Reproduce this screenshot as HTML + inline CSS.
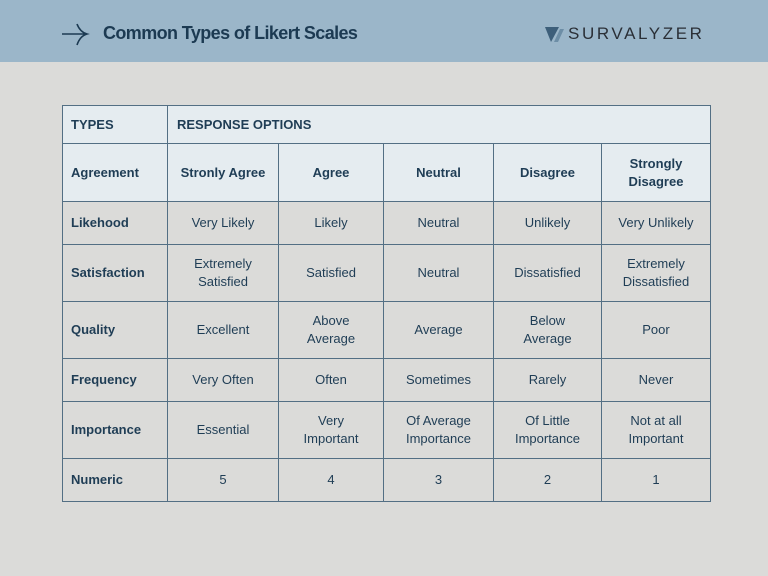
<!DOCTYPE html>
<html><head><style>
*{margin:0;padding:0;box-sizing:border-box}
body{width:768px;height:576px;background:#dbdbd9;font-family:"Liberation Sans",sans-serif;position:relative;overflow:hidden;color:#1f3d55}
.hdr{position:absolute;left:0;top:0;width:768px;height:62px;background:#9bb6c9}
.title{position:absolute;left:103px;top:23px;font-size:18px;font-weight:bold;color:#1c3a52;letter-spacing:-0.6px}
.logo{position:absolute;left:568px;top:24px;font-size:17px;color:#2a2f36;letter-spacing:2.6px}
table{position:absolute;left:62px;top:105px;border-collapse:collapse;font-size:13px}
td{border:1.3px solid #536f84;text-align:center;line-height:18px;padding:0 4px}
td:first-child{text-align:left;font-weight:bold;padding-left:8px}
tr.h td{background:#e5ecf0;font-weight:bold}
</style></head><body>
<div class="hdr"></div>
<svg style="position:absolute;left:60px;top:20px" width="30" height="28"><path d="M2 14 H26 M17 4 Q20 12 27 14 Q20 16 17 25" stroke="#1c3a52" stroke-width="1.6" fill="none"/></svg>
<div class="title">Common Types of Likert Scales</div>
<svg style="position:absolute;left:545px;top:26px" width="20" height="17"><polygon points="0,1 14,1 6,16" fill="#3d5f7a"/><polygon points="15,3 19,3 13,16 9,16" fill="#6d8ea6"/></svg>
<div class="logo">SURVALYZER</div>
<table>
<colgroup><col style="width:105px"><col style="width:111px"><col style="width:105px"><col style="width:110px"><col style="width:108px"><col style="width:109px"></colgroup>
<tr class="h" style="height:38px"><td>TYPES</td><td colspan="5" style="text-align:left;padding-left:9px">RESPONSE OPTIONS</td></tr>
<tr class="h" style="height:58px"><td style="font-weight:bold">Agreement</td><td>Stronly Agree</td><td>Agree</td><td>Neutral</td><td>Disagree</td><td>Strongly<br>Disagree</td></tr>
<tr style="height:43px"><td>Likehood</td><td>Very Likely</td><td>Likely</td><td>Neutral</td><td>Unlikely</td><td>Very Unlikely</td></tr>
<tr style="height:57px"><td>Satisfaction</td><td>Extremely<br>Satisfied</td><td>Satisfied</td><td>Neutral</td><td>Dissatisfied</td><td>Extremely<br>Dissatisfied</td></tr>
<tr style="height:57px"><td>Quality</td><td>Excellent</td><td>Above<br>Average</td><td>Average</td><td>Below<br>Average</td><td>Poor</td></tr>
<tr style="height:43px"><td>Frequency</td><td>Very Often</td><td>Often</td><td>Sometimes</td><td>Rarely</td><td>Never</td></tr>
<tr style="height:57px"><td>Importance</td><td>Essential</td><td>Very<br>Important</td><td>Of Average<br>Importance</td><td>Of Little<br>Importance</td><td>Not at all<br>Important</td></tr>
<tr style="height:43px"><td>Numeric</td><td>5</td><td>4</td><td>3</td><td>2</td><td>1</td></tr>
</table>
</body></html>
